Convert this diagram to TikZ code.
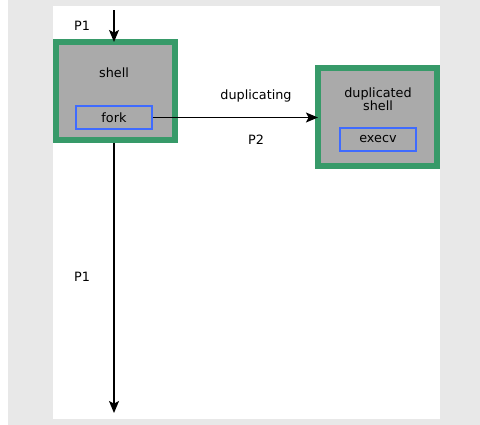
\documentclass[tikz,border=0pt]{standalone}
\usepackage{fontspec}
\setmainfont{DejaVu Sans}
\usetikzlibrary{arrows.meta}
\definecolor{pagegrey}{HTML}{E8E8E8}
\definecolor{procgreen}{HTML}{379A69}
\definecolor{procfill}{HTML}{AAAAAA}
\definecolor{callblue}{HTML}{3F6BFF}
\tikzset{
  procbox/.style={draw=procgreen, fill=procfill, line width=4.1pt, minimum width=89.25pt, minimum height=73.5pt, inner sep=0pt},
  callbox/.style={draw=callblue, line width=1.5pt, minimum width=57pt, minimum height=17.25pt, inner sep=0pt, font=\fontsize{9.6pt}{11pt}\selectfont},
  lbl/.style={font=\fontsize{9.6pt}{11pt}\selectfont, inner sep=0pt, align=center},
  flow/.style={line width=0.9pt, -{Stealth[length=9pt,width=7.5pt,inset=2pt]}},
  intobox/.style={shorten >=-2pt}
}
\begin{document}
\begin{tikzpicture}[x=0.75pt,y=-0.75pt]
  % page background and white sheet
  \fill[pagegrey] (8,0) rectangle (480,425);
  \fill[white] (53,6) rectangle (440,419);
  \useasboundingbox (0,0) rectangle (480,425);

  % parent shell
  \node[procbox] (shell) at (115.5,91) {};
  \node[lbl] (shelltxt) at (114,73) {shell};
  \node[callbox] (fork) at (114,117.5) {fork};

  % duplicated shell
  \node[procbox] (dup) at (377.5,117) {};
  \node[lbl] (duptxt) at (378,99) {duplicated\\[-1.2pt]shell};
  \node[callbox] (execv) at (378,139) {execv};

  % process flow
  \coordinate (start) at (114,10);
  \coordinate (end) at (114,413);
  \draw[flow,intobox] (start) -- (start |- shell.north);
  \draw[flow] (start |- shell.south) -- (end);
  \draw[flow,intobox] (fork.east) -- (dup.west |- fork.east);

  % labels
  \node[lbl] (p1top) at (82,26) {P1};
  \node[lbl] (p1bot) at (82,277) {P1};
  \node[lbl] (duplab) at (256,96) {duplicating};
  \node[lbl] (p2) at (256,140) {P2};
\end{tikzpicture}
\end{document}
